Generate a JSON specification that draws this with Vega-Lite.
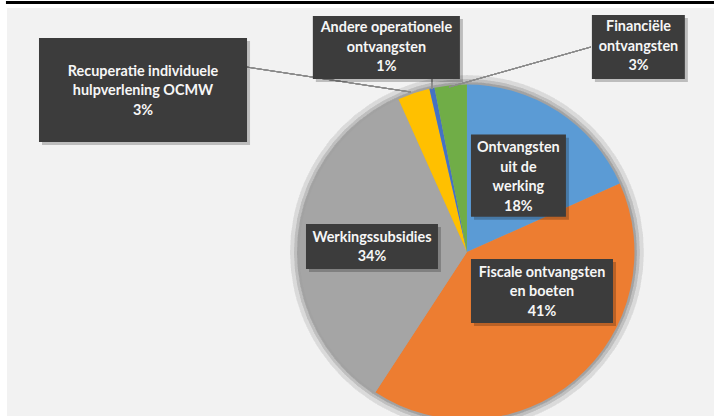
{
  "$schema": "https://vega.github.io/schema/vega-lite/v6.json",
  "width": 707,
  "height": 408,
  "padding": {"left": 7, "top": 8, "right": 0, "bottom": 0},
  "autosize": {"type": "none"},
  "background": "#ffffff",
  "config": {
    "view": {"stroke": null, "fill": "#f2f2f2"},
    "axis": {"disable": true},
    "text": {"font": "Lato", "fontWeight": "bold", "fontSize": 14.4, "color": "#f6f6f6", "lineBreak": "\n", "lineHeight": 19.5, "baseline": "middle", "align": "center"}
  },
  "data": {
    "values": [
      {"cat": "Ontvangsten uit de werking", "lbl": "Ontvangsten\nuit de\nwerking\n18%", "value": 18.3, "idx": 1},
      {"cat": "Fiscale ontvangsten en boeten", "lbl": "Fiscale ontvangsten\nen boeten\n41%", "value": 40.9, "idx": 2},
      {"cat": "Werkingssubsidies", "lbl": "Werkingssubsidies\n34%", "value": 34.1, "idx": 3},
      {"cat": "Recuperatie individuele hulpverlening OCMW", "lbl": "Recuperatie individuele\nhulpverlening OCMW\n3%", "value": 3.1, "idx": 4},
      {"cat": "Andere operationele ontvangsten", "lbl": "Andere operationele\nontvangsten\n1%", "value": 0.5, "idx": 5},
      {"cat": "Financiële ontvangsten", "lbl": "Financiële\nontvangsten\n3%", "value": 3.1, "idx": 6}
    ]
  },
  "layer": [
    {
      "mark": {"type": "arc", "outerRadius": 177, "color": "#000000", "opacity": 0.015},
      "encoding": {
        "x": {"datum": 0, "type": "quantitative", "scale": {"domain": [-274.6, 147.5], "nice": false, "zero": false}, "axis": null},
        "y": {"datum": 0, "type": "quantitative", "scale": {"domain": [-97.9, 145.7], "nice": false, "zero": false}, "axis": null}
      }
    },
    {
      "mark": {"type": "arc", "outerRadius": 173, "color": "#000000", "opacity": 0.02},
      "encoding": {"x": {"datum": 0}, "y": {"datum": 0}}
    },
    {
      "mark": {"type": "arc", "outerRadius": 170, "color": "#000000", "opacity": 0.025},
      "encoding": {"x": {"datum": 0}, "y": {"datum": 0}}
    },
    {
      "mark": {"type": "arc", "outerRadius": 167.5},
      "encoding": {
        "x": {"datum": 0},
        "y": {"datum": 0},
        "theta": {"field": "value", "type": "quantitative", "stack": true},
        "order": {"field": "idx", "type": "quantitative"},
        "color": {
          "field": "cat", "type": "nominal", "legend": null,
          "scale": {
            "domain": ["Ontvangsten uit de werking", "Fiscale ontvangsten en boeten", "Werkingssubsidies", "Recuperatie individuele hulpverlening OCMW", "Andere operationele ontvangsten", "Financiële ontvangsten"],
            "range": ["#5b9bd5", "#ed7d31", "#a5a5a5", "#ffc000", "#4472c4", "#70ad47"]
          }
        }
      }
    },
    {
      "mark": {"type": "rule", "color": "#000000", "strokeWidth": 3, "clip": false},
      "encoding": {"x": {"datum": -275.2}, "x2": {"datum": 147.5}, "y": {"datum": 149.0}}
    },
    {
      "mark": {"type": "rule", "color": "#8c8c8c", "strokeWidth": 1},
      "encoding": {"x": {"datum": -131.3}, "y": {"datum": 110.4}, "x2": {"datum": -33.4}, "y2": {"datum": 95.5}}
    },
    {
      "mark": {"type": "rule", "color": "#8c8c8c", "strokeWidth": 1},
      "encoding": {"x": {"datum": -20.9}, "y": {"datum": 103.3}, "x2": {"datum": -20.9}, "y2": {"datum": 97.3}}
    },
    {
      "mark": {"type": "rule", "color": "#8c8c8c", "strokeWidth": 1},
      "encoding": {"x": {"datum": 74.0}, "y": {"datum": 122.4}, "x2": {"datum": -10.7}, "y2": {"datum": 98.5}}
    },
    {
      "transform": [{"filter": "datum.idx == 1"}],
      "layer": [
        {"mark": {"type": "rect", "color": "#000000", "opacity": 0.22}, "encoding": {"x": {"datum": 4.2}, "x2": {"datum": 60.9}, "y": {"datum": 68.3}, "y2": {"datum": 19.2}}},
        {"mark": {"type": "rect", "color": "#3c3c3c"}, "encoding": {"x": {"datum": 2.4}, "x2": {"datum": 59.1}, "y": {"datum": 70.1}, "y2": {"datum": 21.0}}},
        {"mark": {"type": "text"}, "encoding": {"x": {"datum": 30.7}, "y": {"datum": 62.1}, "text": {"field": "lbl"}}}
      ]
    },
    {
      "transform": [{"filter": "datum.idx == 2"}],
      "layer": [
        {"mark": {"type": "rect", "color": "#000000", "opacity": 0.22}, "encoding": {"x": {"datum": 4.2}, "x2": {"datum": 89.0}, "y": {"datum": -6.0}, "y2": {"datum": -44.2}}},
        {"mark": {"type": "rect", "color": "#3c3c3c"}, "encoding": {"x": {"datum": 2.4}, "x2": {"datum": 87.2}, "y": {"datum": -4.2}, "y2": {"datum": -42.4}}},
        {"mark": {"type": "text"}, "encoding": {"x": {"datum": 44.8}, "y": {"datum": -12.5}, "text": {"field": "lbl"}}}
      ]
    },
    {
      "transform": [{"filter": "datum.idx == 3"}],
      "layer": [
        {"mark": {"type": "rect", "color": "#000000", "opacity": 0.22}, "encoding": {"x": {"datum": -94.3}, "x2": {"datum": -15.5}, "y": {"datum": 14.9}, "y2": {"datum": -11.9}}},
        {"mark": {"type": "rect", "color": "#3c3c3c"}, "encoding": {"x": {"datum": -96.1}, "x2": {"datum": -17.3}, "y": {"datum": 16.7}, "y2": {"datum": -10.1}}},
        {"mark": {"type": "text"}, "encoding": {"x": {"datum": -56.7}, "y": {"datum": 8.4}, "text": {"field": "lbl"}}}
      ]
    },
    {
      "transform": [{"filter": "datum.idx == 4"}],
      "layer": [
        {"mark": {"type": "rect", "color": "#000000", "opacity": 0.22}, "encoding": {"x": {"datum": -253.7}, "x2": {"datum": -129.5}, "y": {"datum": 126.0}, "y2": {"datum": 63.9}}},
        {"mark": {"type": "rect", "color": "#3c3c3c"}, "encoding": {"x": {"datum": -255.5}, "x2": {"datum": -131.3}, "y": {"datum": 127.8}, "y2": {"datum": 65.7}}},
        {"mark": {"type": "text"}, "encoding": {"x": {"datum": -193.4}, "y": {"datum": 107.5}, "text": {"field": "lbl"}}}
      ]
    },
    {
      "transform": [{"filter": "datum.idx == 5"}],
      "layer": [
        {"mark": {"type": "rect", "color": "#000000", "opacity": 0.22}, "encoding": {"x": {"datum": -90.2}, "x2": {"datum": -2.4}, "y": {"datum": 139.1}, "y2": {"datum": 101.5}}},
        {"mark": {"type": "rect", "color": "#3c3c3c"}, "encoding": {"x": {"datum": -92.0}, "x2": {"datum": -4.2}, "y": {"datum": 140.9}, "y2": {"datum": 103.3}}},
        {"mark": {"type": "text"}, "encoding": {"x": {"datum": -48.1}, "y": {"datum": 133.7}, "text": {"field": "lbl"}}}
      ]
    },
    {
      "transform": [{"filter": "datum.idx == 6"}],
      "layer": [
        {"mark": {"type": "rect", "color": "#000000", "opacity": 0.22}, "encoding": {"x": {"datum": 76.4}, "x2": {"datum": 131.9}, "y": {"datum": 139.7}, "y2": {"datum": 101.5}}},
        {"mark": {"type": "rect", "color": "#3c3c3c"}, "encoding": {"x": {"datum": 74.6}, "x2": {"datum": 130.1}, "y": {"datum": 141.5}, "y2": {"datum": 103.3}}},
        {"mark": {"type": "text"}, "encoding": {"x": {"datum": 102.4}, "y": {"datum": 134.3}, "text": {"field": "lbl"}}}
      ]
    }
  ]
}
